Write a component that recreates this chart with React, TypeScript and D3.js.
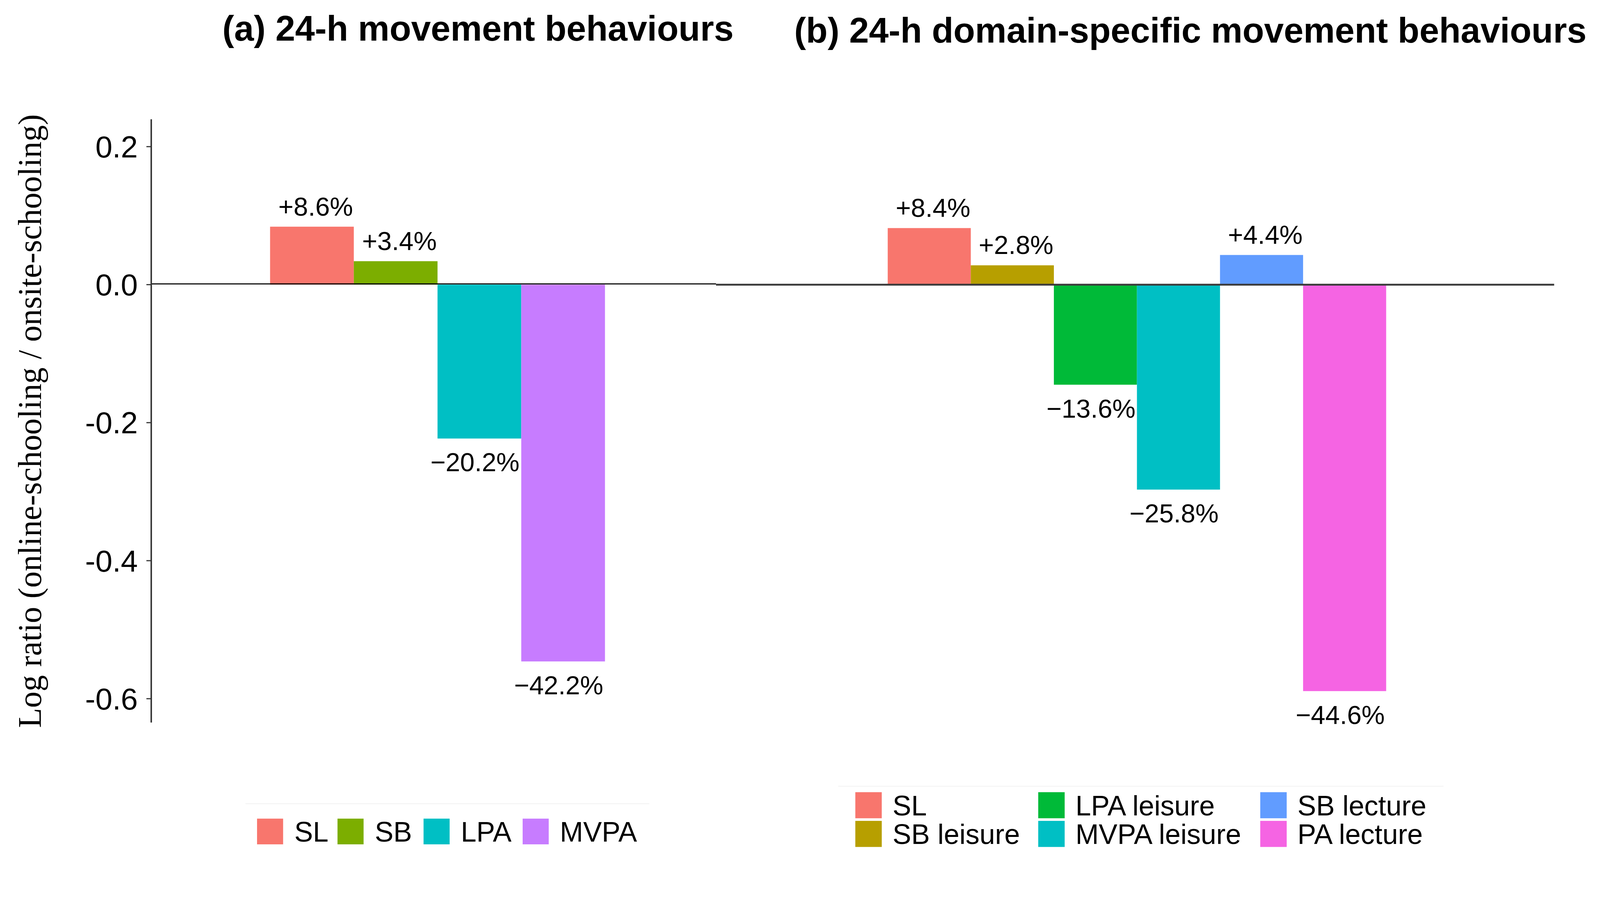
import React, { useEffect } from 'react';
import * as d3 from 'd3';

const categoriesA = ['SL', 'SB', 'LPA', 'MVPA'];
const valuesA = [0.084, 0.034, -0.223, -0.546];
const labelsA = ['+8.6%', '+3.4%', '\u221220.2%', '\u221242.2%'];
const colorsA = ['#F8766D', '#7CAE00', '#00BFC4', '#C77CFF'];

const categoriesB = ['SL', 'SB leisure', 'LPA leisure', 'MVPA leisure', 'SB lecture', 'PA lecture'];
const valuesB = [0.082, 0.028, -0.145, -0.297, 0.043, -0.589];
const labelsB = ['+8.4%', '+2.8%', '\u221213.6%', '\u221225.8%', '+4.4%', '\u221244.6%'];
const colorsB = ['#F8766D', '#B79F00', '#00BA38', '#00BFC4', '#619CFF', '#F564E3'];

const yTicks = [0.2, 0, -0.2, -0.4, -0.6];
const yTickLabels = ['0.2', '0.0', '-0.2', '-0.4', '-0.6'];

const titleA = '(a) 24-h movement behaviours';
const titleB = '(b) 24-h domain-specific movement behaviours';
const yTitle = 'Log ratio (online-schooling / onsite-schooling)';

const W = 4295;
const H = 2306;
const SANS = '"Liberation Sans", Arial, Helvetica, sans-serif';
const SERIF = '"Liberation Serif", "Times New Roman", serif';

export default function App() {
  useEffect(() => {
    document.body.style.margin = '0';
    document.body.style.overflow = 'hidden';
    document.documentElement.style.overflow = 'hidden';
  }, []);

  const y = d3.scaleLinear().domain([-0.6345, 0.2397]).range([1939, 320]);
  const xA = d3.scaleBand<string>().domain(categoriesA).range([725, 1624]).padding(0);
  const xB = d3.scaleBand<string>().domain(categoriesB).range([2383, 3721]).padding(0);

  const axisX = 406;
  const y0 = y(0);

  const bars = (cats: string[], vals: number[], labs: string[], cols: string[], x: d3.ScaleBand<string>) =>
    cats.map((c, i) => {
      const v = vals[i];
      const bx = x(c) as number;
      const bw = x.bandwidth();
      const top = Math.min(y(v), y0);
      const h = Math.abs(y(v) - y0);
      const cx = bx + bw / 2;
      const ly = v >= 0 ? y(v) - 30 : y(v) + 88;
      return (
        <g key={c}>
          <rect x={bx} y={top} width={bw} height={h} fill={cols[i]} />
          <text
            x={cx + (v >= 0 ? 10 : -12)}
            y={ly}
            textAnchor="middle"
            fontFamily={SANS}
            fontSize={70}
            fill="#000"
          >
            {labs[i]}
          </text>
        </g>
      );
    });

  const legendAX = [690, 906, 1137, 1403];
  const legendBX = [2296, 2787, 3383];

  return (
    <svg
      viewBox={`0 0 ${W} ${H}`}
      preserveAspectRatio="xMinYMin meet"
      style={{ display: 'block', width: '100vw', height: 'auto', background: '#fff', position: 'fixed', left: 0, top: 0 }}
    >
      <rect x={0} y={0} width={W} height={H} fill="#fff" />

      {/* Titles */}
      <text x={597} y={109} fontFamily={SANS} fontWeight="bold" fontSize={95} fill="#000">
        {titleA}
      </text>
      <text x={2132} y={114} fontFamily={SANS} fontWeight="bold" fontSize={95} fill="#000">
        {titleB}
      </text>

      {/* Y axis title */}
      <text
        transform={`translate(110, 1130) rotate(-90)`}
        textAnchor="middle"
        fontFamily={SERIF}
        fontSize={88}
        fill="#000"
      >
        {yTitle}
      </text>

      {/* Bars */}
      {bars(categoriesA, valuesA, labelsA, colorsA, xA)}
      {bars(categoriesB, valuesB, labelsB, colorsB, xB)}

      {/* Zero lines */}
      <line x1={axisX} x2={1922} y1={y0 - 2} y2={y0 - 2} stroke="#000" strokeWidth={3} />
      <line x1={1922} x2={4172} y1={y0} y2={y0} stroke="#3c3c3c" strokeWidth={5} />

      {/* Y axis */}
      <line x1={axisX} x2={axisX} y1={320} y2={1939} stroke="#333" strokeWidth={4} />
      {yTicks.map((t, i) => (
        <g key={t}>
          <line x1={393} x2={axisX} y1={y(t)} y2={y(t)} stroke="#333" strokeWidth={3} />
          <text
            x={370}
            y={y(t) + 29}
            textAnchor="end"
            fontFamily={SANS}
            fontSize={82}
            fill="#000"
          >
            {yTickLabels[i]}
          </text>
        </g>
      ))}

      {/* faint legend box tops */}
      <line x1={659} x2={1743} y1={2157} y2={2157} stroke="#f2f2f2" strokeWidth={2} />
      <line x1={2250} x2={3875} y1={2110} y2={2110} stroke="#f2f2f2" strokeWidth={2} />

      {/* Legend A */}
      {categoriesA.map((c, i) => (
        <g key={'la' + c}>
          <rect x={legendAX[i]} y={2197} width={70} height={69} fill={colorsA[i]} />
          <text x={legendAX[i] + 100} y={2259} fontFamily={SANS} fontSize={75} fill="#000">
            {c}
          </text>
        </g>
      ))}

      {/* Legend B */}
      {categoriesB.map((c, i) => {
        const col = Math.floor(i / 2);
        const row = i % 2;
        const ry = 2126 + row * 77;
        return (
          <g key={'lb' + c}>
            <rect x={legendBX[col]} y={ry} width={71} height={70} fill={colorsB[i]} />
            <text x={legendBX[col] + 100} y={ry + 62} fontFamily={SANS} fontSize={75} fill="#000">
              {c}
            </text>
          </g>
        );
      })}
    </svg>
  );
}
